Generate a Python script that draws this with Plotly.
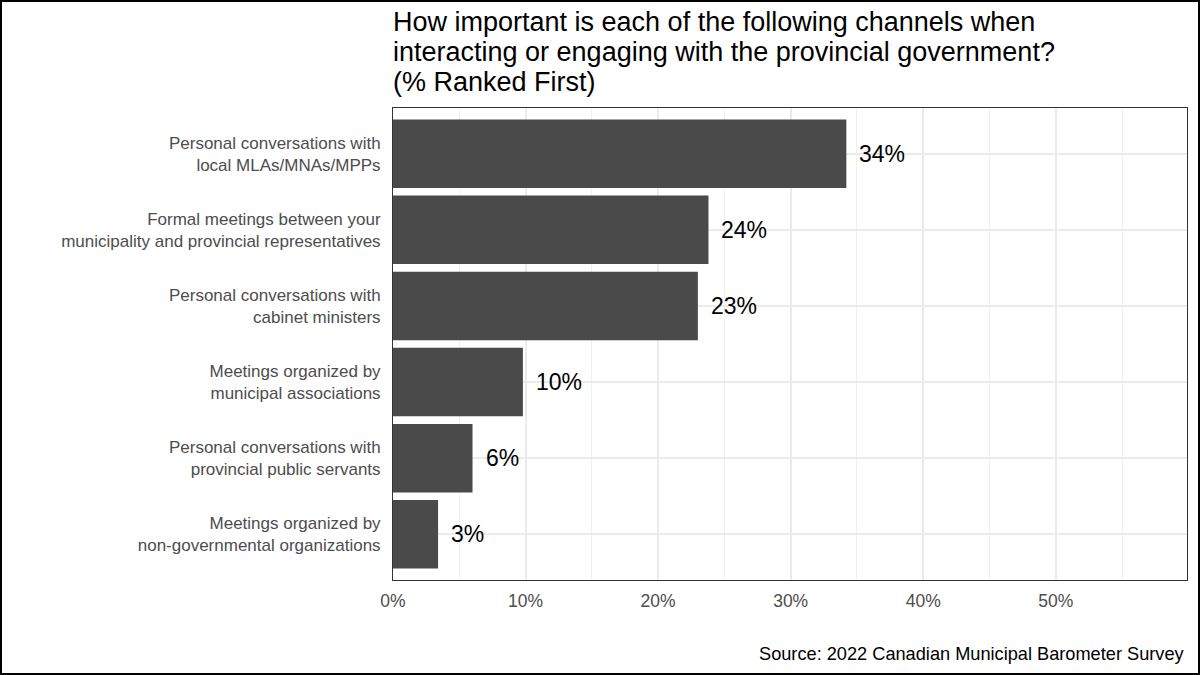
import plotly.graph_objects as go

categories = [
    "Personal conversations with<br>local MLAs/MNAs/MPPs",
    "Formal meetings between your<br>municipality and provincial representatives",
    "Personal conversations with<br>cabinet ministers",
    "Meetings organized by<br>municipal associations",
    "Personal conversations with<br>provincial public servants",
    "Meetings organized by<br>non-governmental organizations",
]
values = [34.2, 23.8, 23.0, 9.8, 6.0, 3.4]
labels = ["34%", "24%", "23%", "10%", "6%", "3%"]
x_ticks = [0, 10, 20, 30, 40, 50]
x_ticktext = ["0%", "10%", "20%", "30%", "40%", "50%"]
title_lines = [
    "How important is each of the following channels when",
    "interacting or engaging with the provincial government?",
    "(% Ranked First)",
]
caption = "Source: 2022 Canadian Municipal Barometer Survey"

W, H = 1200, 675
L, R, T, B = 393, 13, 108, 95
pw, ph = W - L - R, H - T - B

FONT = "Liberation Sans, Arial, Helvetica, sans-serif"

fig = go.Figure()
fig.add_trace(go.Bar(
    x=values, y=categories, orientation="h",
    marker=dict(color="#4a4a4a", line=dict(width=0)),
    width=0.9, hoverinfo="skip", showlegend=False,
))

for v, c, t in zip(values, categories, labels):
    fig.add_annotation(x=v, y=c, text=t, showarrow=False, xanchor="left",
                       xshift=11, font=dict(size=23, color="black", family=FONT))

# title lines (tight line spacing like the reference)
for i, line in enumerate(title_lines):
    ypx = 22 + 30 * i
    fig.add_annotation(x=0, xref="paper", xanchor="left", xshift=-2,
                       y=1 + (T - ypx) / ph, yref="paper", yanchor="middle",
                       text=line, showarrow=False,
                       font=dict(size=27, color="black", family=FONT))

fig.add_annotation(x=1, xref="paper", y=-(654 - (T + ph)) / ph, yref="paper",
                   text=caption, showarrow=False, xanchor="right", yanchor="middle",
                   font=dict(size=18.2, color="black", family=FONT))

# outer border around whole figure
fig.add_shape(type="rect", xref="paper", yref="paper",
              x0=-(L - 1) / pw, x1=1 + (R - 1) / pw,
              y0=-(B - 1) / ph, y1=1 + (T - 1) / ph,
              line=dict(color="black", width=2), layer="above")

fig.update_layout(
    width=W, height=H,
    margin=dict(l=L, r=R, t=T, b=B, pad=0),
    paper_bgcolor="white", plot_bgcolor="white",
    font=dict(family=FONT),
    xaxis=dict(
        range=[0, 59.9], tickvals=x_ticks, ticktext=x_ticktext,
        showgrid=True, gridcolor="#ebebeb", gridwidth=1.5,
        minor=dict(dtick=5, tick0=0, showgrid=True, gridcolor="#f0f0f0", gridwidth=0.8),
        showline=True, linecolor="#333333", linewidth=1, mirror=True,
        ticks="", zeroline=False,
        tickfont=dict(size=17.5, color="#4d4d4d", family=FONT),
        ticklabelstandoff=5,
    ),
    yaxis=dict(
        categoryorder="array", categoryarray=categories[::-1],
        range=[-0.6, 5.6],
        showgrid=True, gridcolor="#ebebeb", gridwidth=1.5,
        showline=True, linecolor="#333333", linewidth=1, mirror=True,
        ticks="", zeroline=False,
        tickfont=dict(size=17, color="#4d4d4d", family=FONT),
        ticklabelstandoff=8,
    ),
)

fig.write_html("out.html")
